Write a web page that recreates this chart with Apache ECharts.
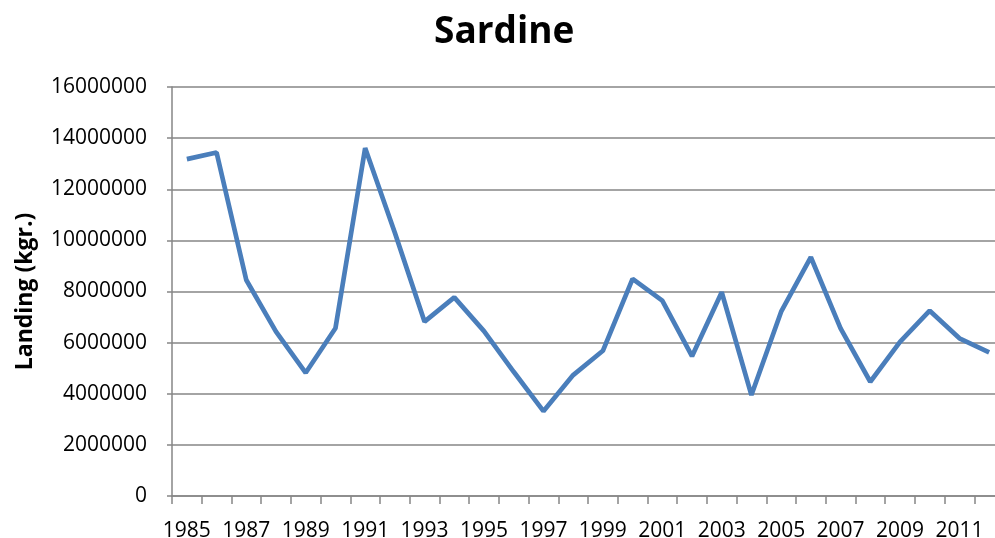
<!DOCTYPE html>
<html>
<head>
<meta charset="utf-8">
<title>Sardine</title>
<script src="https://cdn.jsdelivr.net/npm/echarts@6/dist/echarts.min.js"></script>
<style>
    html, body { margin: 0; padding: 0; background: #fff; }
    #container { width: 995px; height: 538px; }
</style>
</head>
<body>
<div id="container"></div>
<script type="text/javascript">
    // landing data
    var years = ['1985', '1986', '1987', '1988', '1989', '1990', '1991', '1992', '1993', '1994',
        '1995', '1996', '1997', '1998', '1999', '2000', '2001', '2002', '2003', '2004',
        '2005', '2006', '2007', '2008', '2009', '2010', '2011', '2012'];
    var landing = [13180000, 13440000, 8450000, 6430000, 4820000, 6560000, 13610000, 10300000, 6820000, 7770000,
        6450000, 4860000, 3320000, 4730000, 5680000, 8490000, 7640000, 5470000, 7970000, 3950000,
        7210000, 9340000, 6560000, 4470000, 6030000, 7250000, 6170000, 5620000];

    var dom = document.getElementById("container");
    var myChart = echarts.init(dom);
    var axisGray = '#868686';
    var font = '"Open Sans", "DejaVu Sans", sans-serif';

    var option = {
        animation: false,
        title: {
            text: 'Sardine',
            left: 429,
            top: 9,
            textStyle: { fontFamily: font, fontWeight: 'bold', fontSize: 37, color: '#000' }
        },
        grid: {
            left: 172,
            top: 87,
            right: -9,
            bottom: 42,
            containLabel: false,
            outerBoundsMode: 'none'
        },
        xAxis: {
            type: 'category',
            data: years,
            boundaryGap: true,
            axisLine: { lineStyle: { color: axisGray, width: 1.5 } },
            axisTick: { show: true, interval: 0, length: 8, lineStyle: { color: axisGray, width: 1.5 } },
            axisLabel: { interval: 1, margin: 25, fontFamily: font, fontSize: 21, color: '#000' },
            splitLine: { show: false }
        },
        yAxis: {
            type: 'value',
            min: 0,
            max: 16000000,
            interval: 2000000,
            name: 'Landing (kgr.)',
            nameLocation: 'middle',
            nameRotate: 90,
            nameGap: 135,
            nameTextStyle: { fontFamily: font, fontWeight: 'bold', fontSize: 23, color: '#000' },
            axisLine: { show: true, lineStyle: { color: axisGray, width: 1.5 } },
            axisTick: { show: true, length: 5, lineStyle: { color: axisGray, width: 1.5 } },
            axisLabel: {
                margin: 25, fontFamily: font, fontSize: 21, color: '#000',
                formatter: function (v) { return String(v); }
            },
            splitLine: { show: true, lineStyle: { color: axisGray, width: 1.5 } }
        },
        series: [
            {
                name: 'Sardine',
                type: 'line',
                data: landing,
                symbol: 'none',
                smooth: false,
                lineStyle: { color: '#4a7ebb', width: 4.7 }
            }
        ]
    };

    if (option && typeof option === 'object') {
        myChart.setOption(option);
    }
</script>
</body>
</html>
